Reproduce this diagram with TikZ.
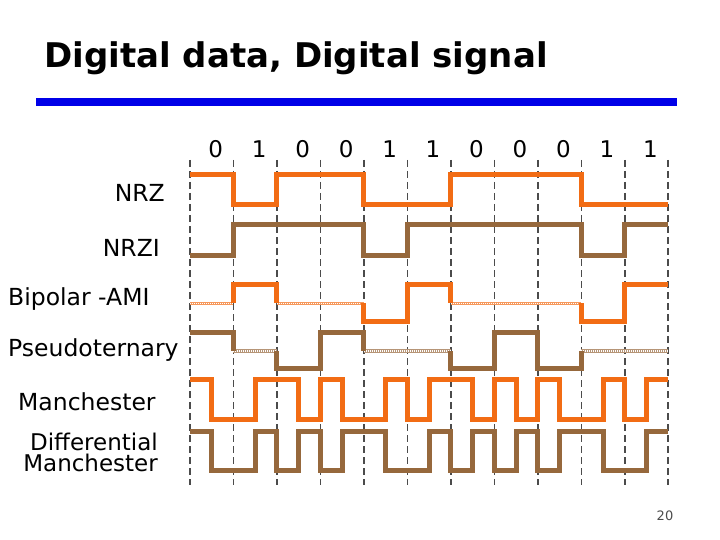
\documentclass[tikz,border=0pt]{standalone}
\usepackage{fontspec}
\setmainfont{DejaVu Sans}
\usetikzlibrary{positioning}
\definecolor{sigorange}{RGB}{242,108,20}
\definecolor{sigbrown}{RGB}{150,104,60}
\definecolor{barblue}{RGB}{0,0,232}
\definecolor{gridgray}{RGB}{75,75,75}

\begin{document}
\begin{tikzpicture}[x=1pt, y=-1pt,
    gridline/.style={gridgray, line width=1.6pt, dash pattern=on 7pt off 4pt},
    sig/.style={line width=5pt, line join=miter},
    zeroline/.style={line width=3.4pt,
      postaction={draw=white, line width=1.2pt, dash pattern=on 1pt off 1pt}},
    lbl/.style={inner sep=0, font=\fontsize{23.5}{26}\selectfont},
    bitlbl/.style={anchor=base, inner sep=0, font=\fontsize{23}{26}\selectfont}]
  \useasboundingbox (0,0) rectangle (720,540);

  % Title and rule
  \node[anchor=base west, inner sep=0, font=\fontsize{34}{40}\selectfont\bfseries]
    (title) at (44,68) {Digital data, Digital signal};
  \fill[barblue] (36,98.3) rectangle (677,106);

  % Row labels
  \node[lbl, anchor=base east] (nrz) at (165,201.7) {NRZ};
  \node[lbl, anchor=base east] (nrzi) at (160,256.7) {NRZI};
  \node[lbl, anchor=base west] (ami) at (8,305) {Bipolar -AMI};
  \node[lbl, anchor=base west] (pseudo) at (8,356.7) {Pseudoternary};
  \node[lbl, anchor=base west] (manch) at (18,410.7) {Manchester};
  \node[lbl, anchor=north east, align=right, font=\fontsize{23}{21.5}\selectfont]
    (diffmanch) at (158,432.4) {Differential\\Manchester};

  \begin{scope}[shift={(190pt,0pt)}, x=43.48pt]
    % Bit cells
    \foreach \k in {0,...,11}
      \draw[gridline] (\k,160) -- (\k,485);
    \foreach \d [count=\i from 0] in {0,1,0,0,1,1,0,0,0,1,1}
      \node[bitlbl] (bit\i) at (\i+0.59,158) {\d};

    % NRZ
    \draw[sig, sigorange] (0,174.3) -| (1,205) -| (2,174.3) -| (4,205)
      -| (6,174.3) -| (9,205) -- (11,205);

    % NRZI
    \draw[sig, sigbrown] (0,255) -| (1,224.3) -| (4,255) -| (5,224.3)
      -| (9,255) -| (10,224.3) -- (11,224.3);

    % Bipolar-AMI
    \draw[zeroline, sigorange!70] (0,303.3) -- (1,303.3) (2,303.3) -- (4,303.3)
      (6,303.3) -- (9,303.3);
    \draw[sig, sigorange] (1,303.3) |- (2,284.3) -- (2,303.3)
      (4,303.3) |- (5,321) |- (6,284.3) -- (6,303.3)
      (9,303.3) |- (10,321) |- (11,284.3);

    % Pseudoternary
    \draw[zeroline, sigbrown!70] (1,351) -- (2,351) (4,351) -- (6,351)
      (9,351) -- (11,351);
    \draw[sig, sigbrown] (0,332.7) -| (1,351)
      (2,351) |- (3,368) |- (4,332.7) -- (4,351)
      (6,351) |- (7,368) |- (8,332.7) |- (9,368) -- (9,351);

    % Manchester
    \draw[sig, sigorange] (0,379.3) -| (0.5,419.3) -| (1.5,379.3) -| (2.5,419.3)
      -| (3,379.3) -| (3.5,419.3) -| (4.5,379.3) -| (5,419.3) -| (5.5,379.3)
      -| (6.5,419.3) -| (7,379.3) -| (7.5,419.3) -| (8,379.3) -| (8.5,419.3)
      -| (9.5,379.3) -| (10,419.3) -| (10.5,379.3) -- (11,379.3);

    % Differential Manchester
    \draw[sig, sigbrown] (0,431.7) -| (0.5,470) -| (1.5,431.7) -| (2,470)
      -| (2.5,431.7) -| (3,470) -| (3.5,431.7) -| (4.5,470) -| (5.5,431.7)
      -| (6,470) -| (6.5,431.7) -| (7,470) -| (7.5,431.7) -| (8,470)
      -| (8.5,431.7) -| (9.5,470) -| (10.5,431.7) -- (11,431.7);
  \end{scope}

  % Slide number
  \node[anchor=base, inner sep=0, text=gridgray, font=\fontsize{13}{15}\selectfont]
    (page) at (665,520) {20};
\end{tikzpicture}
\end{document}
